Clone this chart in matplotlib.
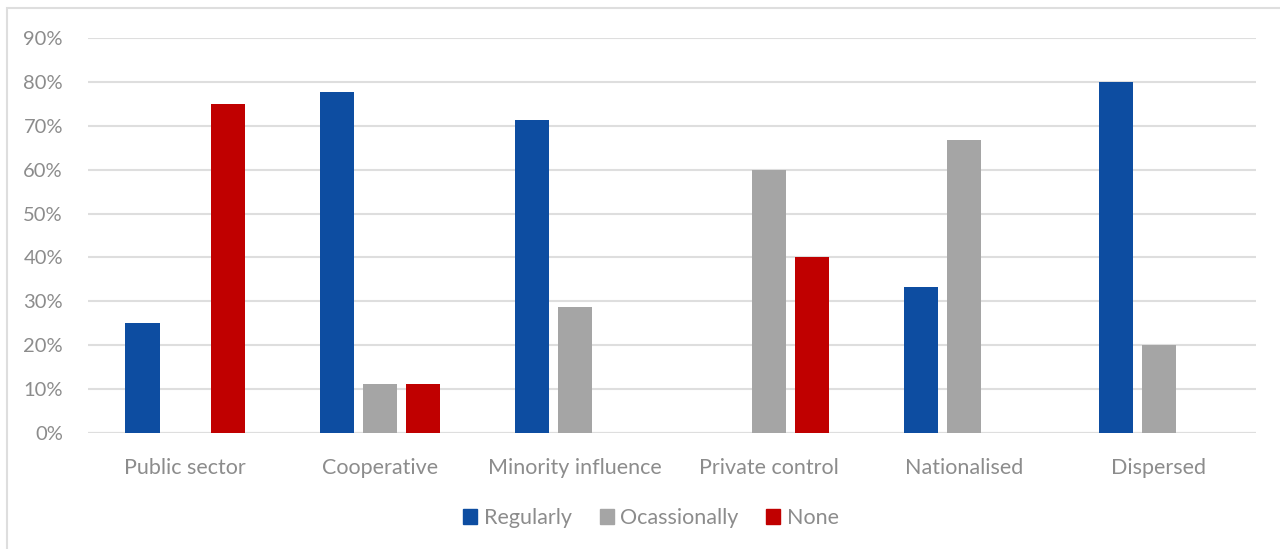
import matplotlib
matplotlib.use("Agg")
import matplotlib.pyplot as plt
import matplotlib.patches as mpatches
import numpy as np

categories = ["Public sector", "Cooperative", "Minority influence",
              "Private control", "Nationalised", "Dispersed"]
series_names = ["Regularly", "Ocassionally", "None"]
regularly = [25.0, 77.8, 71.4, 0.0, 33.3, 80.0]
occasionally = [0.0, 11.1, 28.6, 60.0, 66.7, 20.0]
none = [75.0, 11.1, 0.0, 40.0, 0.0, 0.0]
yticks = [0, 10, 20, 30, 40, 50, 60, 70, 80, 90]

colors = ["#0D4DA1", "#A5A5A5", "#C00000"]
text_color = "#8C8C8C"
grid_color = "#DEDEDE"

plt.rcParams["font.family"] = ["Lato", "DejaVu Sans"]
fs_y = 14.5
fs = 15.5

W, H = 1280, 549
fig = plt.figure(figsize=(W / 100, H / 100), dpi=100)
ax = fig.add_axes([88 / W, 1 - 433 / H, (1256 - 88) / W, (433 - 38) / H])

x = np.arange(len(categories))
bar_w = 0.175
step = 0.22
for k, (vals, name) in enumerate(zip([regularly, occasionally, none], series_names)):
    ax.bar(x + (k - 1) * step, vals, width=bar_w, color=colors[k], label=name, zorder=3)

ax.set_xlim(-0.5, len(categories) - 0.5)
ax.set_ylim(0, 90)
ax.set_yticks(yticks)
ax.set_yticklabels([f"{v}%" for v in yticks], color=text_color, fontsize=fs_y)
ax.set_xticks(x)
ax.set_xticklabels(categories, color=text_color, fontsize=fs)
ax.tick_params(axis="both", length=0)
ax.tick_params(axis="y", pad=18)
ax.tick_params(axis="x", pad=18)
ax.yaxis.grid(True, color=grid_color, linewidth=1.5, zorder=0)
for s in ax.spines.values():
    s.set_visible(False)
ax.axhline(0, color=grid_color, linewidth=1.5, zorder=2)

handles = [mpatches.Patch(color=c) for c in colors]
leg = fig.legend(handles, series_names, loc="center", bbox_to_anchor=(651 / W, 1 - 518 / H),
                 ncol=3, frameon=False, fontsize=fs, handlelength=0.65, handleheight=0.65,
                 handletextpad=0.3, columnspacing=1.3)
for t in leg.get_texts():
    t.set_color(text_color)

# chart frame
fig.patches.append(mpatches.Rectangle((7 / W, -0.1), 1.2, 1 - 8 / H + 0.1,
                                      transform=fig.transFigure, fill=False,
                                      edgecolor=grid_color, linewidth=1.5))

fig.savefig("out.png", dpi=100)
